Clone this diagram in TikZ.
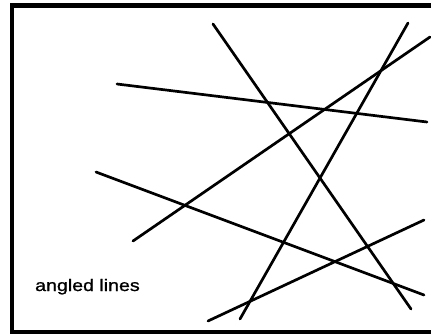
\documentclass[tikz,border=0pt]{standalone}
\usepackage{fontspec}
\setmainfont{Liberation Sans}
\newfontfamily\capfont[FakeBold=1]{Liberation Sans}
\begin{document}
\begin{tikzpicture}[x=1pt,y=-1pt,
  stroke/.style={line width=2.7pt,line cap=round},
  frame/.style={line width=4.5pt},
  caption/.style={anchor=base west,inner sep=0pt,font=\capfont\fontsize{16.6}{18}\selectfont}]
\useasboundingbox (0,0) rectangle (431,333);
\clip (0,0) rectangle (431,333);
\draw[frame] (12,5.5) rectangle (445,332);
\coordinate (a1) at (213,24);  \coordinate (a2) at (411,309);
\coordinate (b1) at (408,23);  \coordinate (b2) at (240,319);
\coordinate (c1) at (430,37);  \coordinate (c2) at (133,241);
\coordinate (d1) at (117,84);  \coordinate (d2) at (427,122);
\coordinate (e1) at (96,172);  \coordinate (e2) at (424,295);
\coordinate (f1) at (424,220); \coordinate (f2) at (208,321);
\draw[stroke] (a1) -- (a2);
\draw[stroke] (b1) -- (b2);
\draw[stroke] (c1) -- (c2);
\draw[stroke] (d1) -- (d2);
\draw[stroke] (e1) -- (e2);
\draw[stroke] (f1) -- (f2);
\node[caption] (label) at (35,291) {\scalebox{1.18}[1]{angled lines}};
\end{tikzpicture}
\end{document}
